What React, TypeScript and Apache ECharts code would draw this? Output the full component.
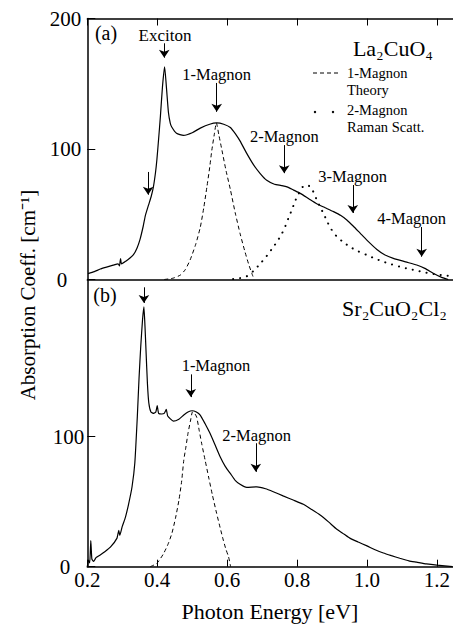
import React, { useEffect, useRef } from 'react';
import * as echarts from 'echarts';

// Panel (a) La2CuO4 — measured absorption
const laX = [0.202, 0.22, 0.237, 0.255, 0.274, 0.288, 0.292, 0.295, 0.298, 0.31, 0.322, 0.332, 0.342, 0.351, 0.36, 0.366, 0.375, 0.383, 0.389, 0.395, 0.399, 0.404, 0.409, 0.415, 0.421, 0.426, 0.432, 0.437, 0.441, 0.455, 0.475, 0.5, 0.523, 0.55, 0.57, 0.59, 0.609, 0.625, 0.637, 0.655, 0.675, 0.695, 0.713, 0.735, 0.755, 0.771, 0.79, 0.809, 0.835, 0.856, 0.88, 0.904, 0.925, 0.942, 0.96, 0.98, 1.0, 1.028, 1.05, 1.075, 1.11, 1.142, 1.165, 1.189, 1.21, 1.232];
const laY = [4.5, 6, 8, 9.5, 11, 12, 10.5, 16, 12, 14, 16.5, 19, 24, 31, 41, 49, 57, 64, 71, 82, 92, 108, 125, 148, 163, 148, 128, 120, 117, 112, 110.5, 112.5, 116, 119, 120, 119, 116.5, 111, 106, 97, 88, 81, 76, 73, 72, 71, 68.5, 66, 61.5, 58, 55, 52, 49, 45.6, 41, 35.5, 30, 23, 19, 16.2, 13.5, 11.1, 8.5, 4.8, 2, 0];

// Panel (a) 1-Magnon theory
const laTheoryX = [0.42, 0.445, 0.466, 0.48, 0.494, 0.51, 0.523, 0.533, 0.542, 0.55, 0.556, 0.563, 0.569, 0.576, 0.585, 0.597, 0.609, 0.623, 0.637, 0.65, 0.661, 0.67, 0.677];
const laTheoryY = [0, 1, 3.4, 7.5, 15, 27, 40, 55, 71, 86, 99, 111, 120, 111, 99, 83, 69, 51, 35, 22, 12, 5, 0];

// Panel (a) 2-Magnon Raman scattering
const ramanX = [0.617, 0.636, 0.656, 0.675, 0.694, 0.713, 0.732, 0.745, 0.756, 0.765, 0.775, 0.785, 0.794, 0.803, 0.813, 0.82, 0.827, 0.835, 0.842, 0.849, 0.856, 0.865, 0.875, 0.885, 0.894, 0.904, 0.913, 0.93, 0.951, 0.975, 0.999, 1.023, 1.047, 1.07, 1.094, 1.118, 1.142, 1.165, 1.19, 1.213, 1.237, 1.25];
const ramanY = [0.3, 1, 2.5, 6.5, 12, 18, 25, 30, 35, 40, 47, 53.5, 60, 65, 70, 72, 72.5, 71.5, 69.5, 65.5, 61, 56, 50.7, 45, 40, 36, 33, 29, 25, 21.5, 18.8, 16, 13.6, 11.6, 9.8, 8.2, 6.8, 5.4, 4.2, 3.4, 2.7, 2.4];

// Panel (b) Sr2CuO2Cl2 — measured absorption
const srX = [0.2, 0.203, 0.207, 0.21, 0.213, 0.218, 0.225, 0.237, 0.25, 0.266, 0.285, 0.29, 0.293, 0.3, 0.309, 0.318, 0.328, 0.336, 0.343, 0.348, 0.353, 0.358, 0.362, 0.365, 0.368, 0.372, 0.376, 0.382, 0.39, 0.396, 0.4, 0.404, 0.413, 0.42, 0.426, 0.43, 0.446, 0.462, 0.476, 0.488, 0.5, 0.512, 0.523, 0.537, 0.551, 0.565, 0.58, 0.595, 0.609, 0.623, 0.637, 0.656, 0.685, 0.71, 0.732, 0.76, 0.789, 0.818, 0.842, 0.866, 0.89, 0.913, 0.935, 0.951, 0.975, 1.0, 1.025, 1.047, 1.07, 1.094, 1.12, 1.142, 1.17, 1.2, 1.245];
const srY = [0, 5, 3, 20, 6, 4, 7, 9, 11.5, 15, 22, 28, 24, 31, 38, 48, 61.5, 80, 115, 145, 170, 190, 200, 185, 166, 141, 126, 119, 118, 119, 124, 118, 117.5, 118, 121, 116, 112, 113.5, 116.7, 119, 120, 119, 116.7, 110, 102.6, 94, 84.6, 77, 71.8, 66.5, 63.4, 61, 61.5, 60, 57.7, 54.5, 51.3, 48, 44, 39.8, 34.5, 29, 25, 22, 19, 16, 12.8, 10.5, 8.5, 6.5, 4.5, 3.5, 2.2, 1.2, 0];

// Panel (b) 1-Magnon theory
const srTheoryX = [0.38, 0.399, 0.418, 0.432, 0.442, 0.452, 0.462, 0.47, 0.476, 0.482, 0.488, 0.495, 0.501, 0.507, 0.513, 0.52, 0.527, 0.537, 0.547, 0.558, 0.57, 0.58, 0.589, 0.597, 0.604, 0.61];
const srTheoryY = [0, 2.6, 10, 18, 25.7, 37, 51, 66, 82, 92, 102.6, 112, 119, 118, 115, 105, 95, 82, 69, 55, 41, 30, 20.5, 13, 7.7, 0];

const xTicks = [0.2, 0.4, 0.6, 0.8, 1.0, 1.2];
const yTicksA = [0, 100, 200];
const yTicksB = [0, 100];

const FONT = 'Liberation Serif';
const pairs = (xs: number[], ys: number[]) => xs.map((x, i) => [x, ys[i]]);

const arrow = (x: number, y1: number, y2: number) => [{ coord: [x, y1] }, { coord: [x, y2] }];

const markArrows = (data: any[]) => ({
  silent: true,
  symbol: ['none', 'arrow'],
  symbolSize: 8,
  label: { show: false },
  lineStyle: { color: '#000', width: 1, type: 'solid' },
  itemStyle: { color: '#000' },
  emphasis: { disabled: true },
  data,
});

const txt = (text: string, x: number, y: number, size: number, align = 'center') => ({
  type: 'text',
  x,
  y,
  silent: true,
  style: {
    text,
    fill: '#000',
    fontFamily: FONT,
    fontSize: size,
    textAlign: align,
    textVerticalAlign: 'middle',
  },
});

export default function App() {
  const ref = useRef<HTMLDivElement>(null);
  useEffect(() => {
    const chart = echarts.init(ref.current!, null, { renderer: 'svg' });
    const axisLine = { show: true, onZero: false, lineStyle: { color: '#000', width: 1.5 } };
    const xBase: any = {
      type: 'value',
      min: 0.2,
      max: 1.245,
      splitLine: { show: false },
      axisLine,
      axisTick: { show: false },
      axisLabel: { show: false },
    };
    const tickStyle = { show: true, inside: true, length: 7, customValues: xTicks, lineStyle: { color: '#000', width: 1 } };
    const yLabel = (vals: number[], margin: number) => ({
      show: true,
      customValues: vals,
      color: '#000',
      fontFamily: FONT,
      fontSize: 21,
      margin,
      formatter: (v: number) => (v === 0 ? '{z|0}' : String(v)),
      rich: { z: { padding: [0, 14, 0, 0], fontFamily: FONT, fontSize: 21, color: '#000' } },
    });
    const option: any = {
      animation: false,
      backgroundColor: '#fff',
      textStyle: { fontFamily: FONT },
      grid: [
        { left: 87.3, top: 18.5, width: 365.5, height: 261 },
        { left: 87.3, top: 279.5, width: 365.5, height: 287.2 },
      ],
      xAxis: [
        { ...xBase, gridIndex: 0, position: 'bottom' },
        { ...xBase, gridIndex: 0, position: 'top', axisTick: tickStyle },
        {
          ...xBase,
          gridIndex: 1,
          position: 'bottom',
          axisTick: tickStyle,
          axisLabel: {
            show: true,
            customValues: xTicks,
            formatter: (v: number) => v.toFixed(1),
            color: '#000',
            fontFamily: FONT,
            fontSize: 21,
            margin: 3,
          },
          name: 'Photon Energy [eV]',
          nameLocation: 'middle',
          nameGap: 34,
          nameTextStyle: { color: '#000', fontFamily: FONT, fontSize: 22 },
        },
      ],
      yAxis: [
        {
          type: 'value',
          gridIndex: 0,
          min: 0,
          max: 200,
          interval: 100,
          splitLine: { show: false },
          axisLine,
          axisTick: { show: true, inside: true, length: 8, customValues: yTicksA, lineStyle: { color: '#000', width: 1 } },
          axisLabel: yLabel(yTicksA, 6),
        },
        {
          type: 'value',
          gridIndex: 1,
          min: 0,
          max: 221,
          splitLine: { show: false },
          axisLine,
          axisTick: { show: true, inside: true, length: 8, customValues: yTicksB, lineStyle: { color: '#000', width: 1 } },
          axisLabel: yLabel(yTicksB, 3),
        },
      ],
      series: [
        {
          name: 'La2CuO4',
          type: 'line',
          xAxisIndex: 0,
          yAxisIndex: 0,
          data: pairs(laX, laY),
          showSymbol: false,
          smooth: 0.2,
          lineStyle: { color: '#000', width: 1.2 },
          markLine: markArrows([
            arrow(0.42, 181, 170),
            arrow(0.57, 150.6, 128.5),
            arrow(0.763, 103, 81.5),
            arrow(0.959, 72.4, 51),
            arrow(1.156, 40.2, 17.5),
            arrow(0.374, 82.4, 65),
          ]),
        },
        {
          name: '1-Magnon Theory (a)',
          type: 'line',
          xAxisIndex: 0,
          yAxisIndex: 0,
          data: pairs(laTheoryX, laTheoryY),
          showSymbol: false,
          smooth: 0.2,
          lineStyle: { color: '#000', width: 1, type: [4, 3] },
        },
        {
          name: '2-Magnon Raman Scatt.',
          type: 'line',
          xAxisIndex: 0,
          yAxisIndex: 0,
          data: pairs(ramanX, ramanY),
          showSymbol: false,
          smooth: 0.2,
          lineStyle: { color: '#000', width: 2, type: [0.1, 7], cap: 'round' },
        },
        {
          name: 'Sr2CuO2Cl2',
          type: 'line',
          xAxisIndex: 2,
          yAxisIndex: 1,
          data: pairs(srX, srY),
          showSymbol: false,
          smooth: 0.15,
          lineStyle: { color: '#000', width: 1.2 },
          markLine: markArrows([
            arrow(0.362, 215, 203),
            arrow(0.496, 148, 130.5),
            arrow(0.682, 95, 73),
          ]),
        },
        {
          name: '1-Magnon Theory (b)',
          type: 'line',
          xAxisIndex: 2,
          yAxisIndex: 1,
          data: pairs(srTheoryX, srTheoryY),
          showSymbol: false,
          smooth: 0.2,
          lineStyle: { color: '#000', width: 1, type: [4, 3] },
        },
      ],
      graphic: [
        txt('(a)', 106, 33, 20),
        txt('Exciton', 165, 35, 17),
        txt('1-Magnon', 216.7, 74, 16.5),
        txt('2-Magnon', 284.3, 136.7, 16.5),
        txt('3-Magnon', 352.7, 176, 16.5),
        txt('4-Magnon', 411.7, 218, 16.5),
        txt('La₂CuO₄', 433, 48, 22, 'right'),
        {
          type: 'line',
          silent: true,
          shape: { x1: 313, y1: 73, x2: 339, y2: 73 },
          style: { stroke: '#000', lineWidth: 1, lineDash: [4, 3] },
        },
        txt('1-Magnon', 347, 72.5, 14.5, 'left'),
        txt('Theory', 347, 89.5, 14.5, 'left'),
        { type: 'circle', silent: true, shape: { cx: 315, cy: 112, r: 1.2 }, style: { fill: '#000' } },
        { type: 'circle', silent: true, shape: { cx: 333, cy: 112, r: 1.2 }, style: { fill: '#000' } },
        txt('2-Magnon', 347, 109.5, 14.5, 'left'),
        txt('Raman Scatt.', 347, 126.5, 14.5, 'left'),
        txt('(b)', 105, 295, 20),
        txt('Sr₂CuO₂Cl₂', 447, 308, 22, 'right'),
        txt('1-Magnon', 216, 365, 16.5),
        txt('2-Magnon', 256.7, 435, 16.5),
        {
          type: 'text',
          x: 28,
          y: 295,
          rotation: Math.PI / 2,
          silent: true,
          style: {
            text: 'Absorption Coeff. [cm⁻¹]',
            fill: '#000',
            fontFamily: FONT,
            fontSize: 21,
            textAlign: 'center',
            textVerticalAlign: 'middle',
          },
        },
      ],
    };
    chart.setOption(option);
    return () => chart.dispose();
  }, []);
  return <div ref={ref} style={{ position: 'absolute', left: 0, top: 0, width: 453, height: 626 }} />;
}
